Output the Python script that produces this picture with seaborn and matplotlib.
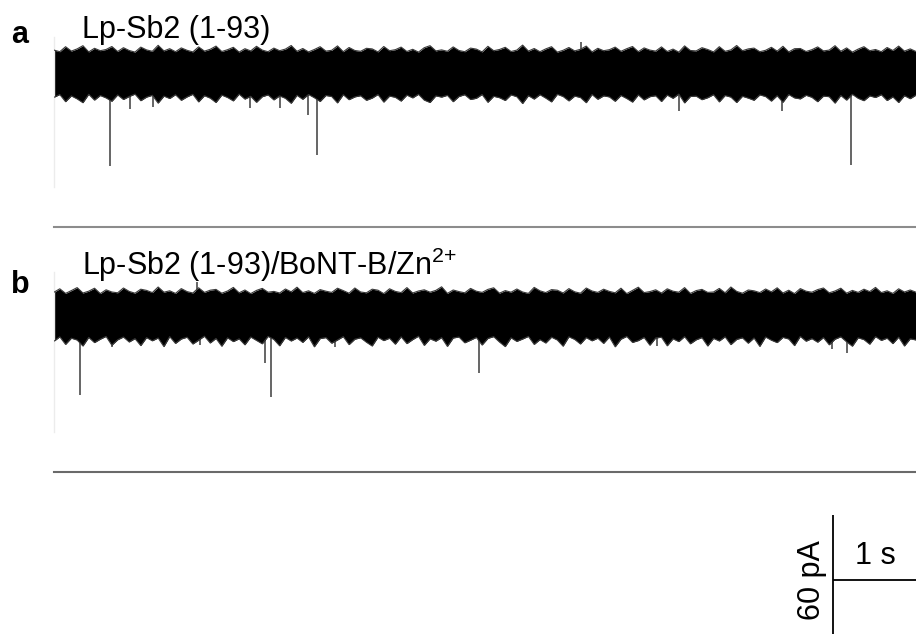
import numpy as np
import pandas as pd
import matplotlib
matplotlib.use("Agg")
import matplotlib.pyplot as plt
import seaborn as sns

# ---------------------------------------------------------------- data
# Recording length (s)
DURATION = 10.0

# Panel a: Lp-Sb2 (1-93) -- upper / lower envelope of the baseline noise (pA)
a_top = [11.2, 10.4, 12.9, 10.7, 11.8, 13.4, 10.3, 12.1, 10.9, 11.5, 13.0, 10.5, 12.4, 11.0, 10.2,
         12.7, 11.3, 10.6, 13.6, 10.8, 11.9, 10.4, 12.3, 11.1, 10.3, 12.8, 10.7, 11.6, 13.2, 10.5,
         11.4, 12.6, 10.2, 11.9, 10.8, 13.1, 11.2, 10.4, 12.2, 10.9, 11.7, 13.5, 10.6, 12.0, 10.3,
         11.5, 12.9, 10.7, 11.1, 13.3, 10.4, 12.5, 11.0, 10.6, 12.1, 11.8, 10.3, 13.0, 10.9, 11.4,
         12.7, 10.5, 11.6, 10.2, 12.4, 13.4, 10.8, 11.3, 10.6, 12.8, 11.0, 10.4, 12.2, 11.7, 10.3,
         13.1, 10.9, 11.5, 12.6, 10.5, 11.2, 13.7, 10.7, 12.0, 10.4, 11.8, 12.9, 10.2, 11.1, 12.5,
         10.8, 11.6, 13.2, 10.3, 12.1, 10.9, 11.4, 12.7, 10.6, 11.9, 13.0, 10.4, 12.3, 11.2, 10.7,
         12.8, 10.5, 11.7, 10.2, 13.3, 11.0, 10.8, 12.4, 11.5, 10.3, 12.9, 10.6, 11.3, 13.5, 10.9,
         11.8, 12.2, 10.4, 11.1, 12.6, 10.7, 13.1, 10.3, 11.9, 12.0, 10.5, 11.4, 12.8, 10.8, 11.2,
         13.4, 10.6, 12.3, 10.2, 11.7, 12.9, 10.9, 11.5, 10.4, 12.5, 11.0, 13.2, 10.7, 11.8, 10.5]
a_bot = [-12.4, -11.0, -14.6, -11.7, -13.2, -15.1, -10.9, -13.8, -11.5, -12.7, -14.4, -11.2, -13.5, -12.0, -10.8,
         -14.1, -12.3, -11.4, -15.3, -11.8, -13.0, -11.1, -13.9, -12.2, -10.9, -14.7, -11.6, -12.8, -15.0, -11.3,
         -12.5, -14.2, -10.8, -13.3, -11.9, -14.9, -12.1, -11.2, -13.7, -11.7, -12.9, -15.4, -11.4, -13.4, -11.0,
         -12.6, -14.5, -11.5, -12.0, -15.2, -11.1, -13.6, -12.2, -11.6, -13.9, -12.8, -11.0, -14.8, -11.8, -12.4,
         -14.3, -11.3, -12.7, -10.9, -13.8, -15.0, -11.7, -12.3, -11.4, -14.6, -12.0, -11.1, -13.5, -12.9, -11.0,
         -14.9, -11.9, -12.6, -14.0, -11.2, -12.1, -15.5, -11.6, -13.3, -11.1, -12.8, -14.7, -10.9, -12.0, -14.2,
         -11.8, -12.5, -15.1, -11.0, -13.4, -11.7, -12.2, -14.4, -11.5, -13.0, -14.8, -11.2, -13.7, -12.1, -11.6,
         -14.5, -11.3, -12.9, -10.8, -15.2, -12.0, -11.8, -13.6, -12.6, -11.1, -14.7, -11.5, -12.3, -15.0, -11.9,
         -12.8, -13.9, -11.2, -12.0, -14.3, -11.6, -14.9, -11.0, -12.7, -13.2, -11.4, -12.4, -14.6, -11.8, -12.1,
         -15.3, -11.5, -13.8, -10.9, -12.9, -14.1, -11.7, -12.5, -11.1, -14.0, -12.2, -15.0, -11.6, -13.1, -11.3]

# Panel b: Lp-Sb2 (1-93)/BoNT-B/Zn2+
b_top = [10.9, 12.6, 10.3, 11.7, 13.2, 10.5, 11.4, 12.9, 10.2, 12.1, 11.0, 10.6, 13.0, 11.3, 10.4,
         12.4, 11.8, 10.7, 13.5, 10.9, 11.6, 10.3, 12.7, 11.2, 10.5, 13.1, 10.8, 11.9, 12.3, 10.4,
         11.5, 13.3, 10.6, 12.0, 10.2, 11.8, 12.8, 10.9, 11.3, 10.5, 12.5, 11.1, 13.4, 10.7, 11.6,
         10.3, 12.2, 11.4, 10.8, 12.9, 11.7, 10.4, 13.0, 11.0, 10.6, 12.4, 11.9, 10.2, 12.6, 11.3,
         10.7, 13.2, 10.5, 11.5, 12.1, 10.9, 11.8, 13.6, 10.3, 12.0, 11.2, 10.6, 12.8, 11.4, 10.8,
         12.3, 13.1, 10.4, 11.7, 10.9, 12.5, 11.0, 10.3, 13.3, 11.6, 10.7, 12.2, 11.9, 10.5, 12.7,
         11.1, 10.4, 13.0, 11.5, 10.8, 12.4, 11.3, 10.6, 12.9, 10.2, 11.8, 13.4, 10.7, 11.2, 12.1,
         10.5, 12.6, 11.4, 10.9, 13.2, 10.3, 11.7, 12.3, 10.8, 11.0, 12.8, 10.6, 13.5, 11.3, 10.4,
         12.0, 11.6, 10.7, 12.5, 11.1, 13.1, 10.5, 11.9, 10.2, 12.7, 11.4, 10.9, 12.2, 13.0, 10.6,
         11.5, 12.9, 10.4, 11.8, 10.8, 12.4, 11.2, 13.3, 10.7, 11.6, 10.3, 12.6, 11.0, 12.0, 10.9]
b_bot = [-13.6, -11.4, -15.2, -12.1, -13.0, -16.0, -11.7, -14.3, -12.6, -11.2, -15.6, -12.9, -11.5, -14.0, -12.3,
         -15.8, -11.8, -13.4, -12.0, -16.3, -11.3, -14.7, -12.5, -11.6, -15.0, -13.1, -11.1, -14.5, -12.2, -16.1,
         -11.9, -13.8, -12.4, -15.4, -11.5, -13.2, -14.9, -11.2, -12.7, -15.9, -11.7, -13.5, -12.0, -14.2, -11.4,
         -16.4, -12.3, -11.8, -14.6, -13.0, -11.3, -15.3, -12.6, -11.9, -14.1, -16.0, -11.6, -13.3, -12.1, -15.1,
         -11.4, -14.8, -12.8, -11.1, -15.7, -12.4, -13.6, -11.8, -16.2, -12.0, -11.5, -14.4, -13.1, -11.7, -15.5,
         -12.2, -11.3, -14.0, -16.3, -11.9, -13.7, -12.5, -11.2, -15.2, -12.8, -14.5, -11.6, -13.0, -16.1, -11.4,
         -12.7, -15.0, -11.8, -13.4, -12.1, -14.7, -11.5, -16.4, -12.6, -11.2, -14.2, -13.3, -11.7, -15.6, -12.0,
         -11.6, -15.9, -12.4, -13.8, -11.3, -14.9, -12.9, -11.8, -16.0, -12.2, -13.5, -11.4, -15.3, -12.7, -11.9,
         -14.6, -12.0, -16.2, -11.5, -13.1, -14.3, -11.7, -12.5, -15.8, -11.2, -13.6, -12.3, -14.1, -11.8, -15.4,
         -12.6, -11.4, -13.9, -16.1, -11.9, -12.8, -15.1, -11.3, -13.2, -12.1, -14.8, -11.6, -16.0, -12.4, -13.0]

# Discrete current events: time (s) and peak amplitude (pA)
a_event_t = [0.65, 0.88, 1.15, 2.27, 2.62, 2.95, 3.05, 6.11, 7.25, 8.45, 9.25]
a_event_i = [-46.8, -18.0, -17.0, -17.5, -17.5, -21.0, -41.0, 15.3, -19.0, -19.0, -46.0]
b_event_t = [0.30, 0.67, 1.66, 1.69, 2.45, 2.52, 3.26, 4.93, 7.00, 9.03, 9.20]
b_event_i = [-40.5, -16.5, 16.0, -15.5, -24.5, -41.5, -16.5, -29.5, -16.0, -17.5, -19.5]

titles = ["Lp-Sb2 (1-93)", r"Lp-Sb2 (1-93)/BoNT-B/Zn$^{2\!+}$"]
panel_letters = ["a", "b"]

SCALE_T = 1.0    # s
SCALE_I = 60.0   # pA

# ---------------------------------------------------------------- style
sns.set_theme(style="white")
plt.rcParams["font.family"] = ["Liberation Sans", "DejaVu Sans"]
plt.rcParams["text.color"] = "black"
plt.rcParams["mathtext.fontset"] = "custom"
plt.rcParams["mathtext.rm"] = "Liberation Sans"
plt.rcParams["mathtext.it"] = "Liberation Sans"
plt.rcParams["mathtext.bf"] = "Liberation Sans:bold"
plt.rcParams["mathtext.default"] = "regular"

W, H = 916, 634
fig = plt.figure(figsize=(W / 100, H / 100), dpi=100)
fig.patch.set_facecolor("white")

PX_PER_PA = 2.0
FS = 22


def px_rect(x0, y0, x1, y1):
    return [x0 / W, 1 - y1 / H, (x1 - x0) / W, (y1 - y0) / H]


def draw_trace(ax, top, bot, ev_t, ev_i, y_top_pa, height_px, spine_col, left_end_pa):
    t = np.linspace(0, DURATION, len(top))
    df = pd.DataFrame({"t": t, "top": top, "bot": bot})
    ax.fill_between(df["t"], df["bot"], df["top"], color="black", lw=0, zorder=2)
    sns.lineplot(data=df, x="t", y="top", ax=ax, color="#3a3a3a", lw=0.8,
                 zorder=3, legend=False)
    sns.lineplot(data=df, x="t", y="bot", ax=ax, color="#3a3a3a", lw=0.8,
                 zorder=3, legend=False)
    ax.vlines(ev_t, 0, ev_i, color="#3c3c3c", lw=1.1, zorder=1)
    ax.set_xlim(0, DURATION)
    ax.set_ylim(y_top_pa - height_px / PX_PER_PA, y_top_pa)
    ax.set_xticks([])
    ax.set_yticks([])
    ax.set_xlabel("")
    ax.set_ylabel("")
    ax.set_facecolor("none")
    for s in ("top", "right"):
        ax.spines[s].set_visible(False)
    ax.spines["bottom"].set_color(spine_col)
    ax.spines["bottom"].set_linewidth(1.5)
    ax.spines["left"].set_color("#ececec")
    ax.spines["left"].set_linewidth(1.0)
    ax.spines["left"].set_bounds(left_end_pa, y_top_pa)


ax_a = fig.add_axes(px_rect(54, 37, 916, 227))
draw_trace(ax_a, a_top, a_bot, a_event_t, a_event_i, 17.75, 190, "#8c8c8c", -57.0)

ax_b = fig.add_axes(px_rect(54, 272, 916, 472))
draw_trace(ax_b, b_top, b_bot, b_event_t, b_event_i, 21.0, 200, "#6a6a6a", -59.0)

# panel letters and titles
fig.text(11 / W, 1 - 43 / H, panel_letters[0], fontsize=FS, fontweight="bold", va="baseline")
fig.text(82 / W, 1 - 38 / H, titles[0], fontsize=FS, va="baseline")
fig.text(11 / W, 1 - 293 / H, panel_letters[1], fontsize=FS, fontweight="bold", va="baseline")
fig.text(82 / W, 1 - 275 / H, titles[1], fontsize=FS, va="baseline")

# scale bar
ax_s = fig.add_axes(px_rect(54, 500, 916, 634))
ax_s.set_xlim(0, DURATION)
ax_s.set_ylim(0, 134 / PX_PER_PA)
ax_s.axis("off")
x0 = 9.037
y_h = 27.0
ax_s.plot([x0, x0], [59.5 - SCALE_I, 59.5], color="black", lw=1.3, clip_on=False,
          solid_capstyle="butt")
ax_s.plot([x0, x0 + SCALE_T], [y_h, y_h], color="black", lw=1.3, clip_on=False,
          solid_capstyle="butt")
ax_s.text(x0 + 0.49, 39, f"{SCALE_T:.0f} s", fontsize=FS, ha="center", va="center")
ax_s.text(x0 - 0.24, y_h, f"{SCALE_I:.0f} pA", fontsize=FS, ha="center", va="center",
          rotation=90)

fig.savefig("out.png", dpi=100, facecolor="white")
